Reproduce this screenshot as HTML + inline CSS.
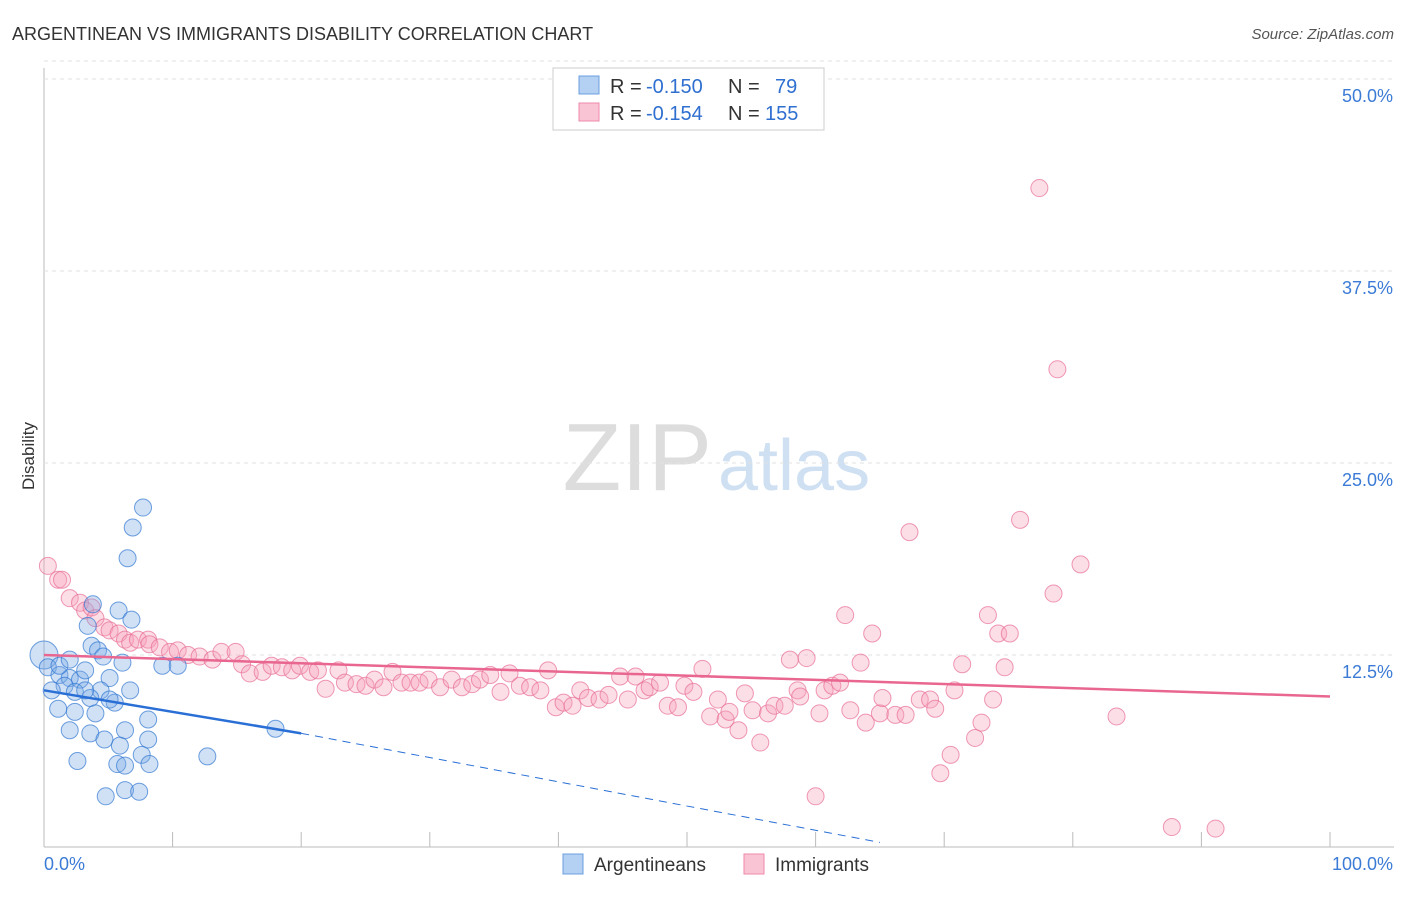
<!DOCTYPE html>
<html><head><meta charset="utf-8"><style>
body{margin:0;background:#fff;font-family:"Liberation Sans",sans-serif}
svg text{font-family:"Liberation Sans",sans-serif}
</style></head><body>
<svg id="c" width="1406" height="892" xmlns="http://www.w3.org/2000/svg">
<text x="12" y="40" font-size="18" fill="#333">ARGENTINEAN VS IMMIGRANTS DISABILITY CORRELATION CHART</text>
<text x="1394" y="39" font-size="15" fill="#555" font-style="italic" text-anchor="end">Source: ZipAtlas.com</text>
<text x="712" y="490" font-size="96" fill="#ddd" text-anchor="end" font-family="Liberation Serif">ZIP</text>
<text x="718" y="490" font-size="72" fill="#cfe0f3">atlas</text>
<text x="34" y="456" font-size="17" fill="#333" transform="rotate(-90 34 456)" text-anchor="middle">Disability</text>
<g id="grid"></g><g id="marks"></g>
<g>
<rect x="553" y="68" width="271" height="62" fill="#fff" stroke="#ccc"/>
<rect x="579" y="76" width="20" height="18" fill="#b4d0f2" stroke="#6a9fdf"/>
<rect x="579" y="103" width="20" height="18" fill="#f9c4d3" stroke="#ee8aa8"/>
<text y="93" font-size="20" fill="#333"><tspan x="610">R =</tspan><tspan x="646" fill="#2f6fd0">-0.150</tspan><tspan x="728">N =</tspan><tspan x="775" fill="#2f6fd0">79</tspan></text>
<text y="120" font-size="20" fill="#333"><tspan x="610">R =</tspan><tspan x="646" fill="#2f6fd0">-0.154</tspan><tspan x="728">N =</tspan><tspan x="765" fill="#2f6fd0">155</tspan></text>
</g>
<g>
<rect x="563" y="854" width="20" height="20" fill="#b4d0f2" stroke="#6a9fdf"/>
<text x="594" y="871" font-size="19" fill="#333">Argentineans</text>
<rect x="744" y="854" width="20" height="20" fill="#f9c4d3" stroke="#ee8aa8"/>
<text x="775" y="871" font-size="19" fill="#333">Immigrants</text>
</g>
<text x="44" y="870" font-size="18" fill="#3b7bd6">0.0%</text>
<text x="1393" y="870" font-size="18" fill="#3b7bd6" text-anchor="end">100.0%</text>
</svg>
<script>
const yTicks=[12.5,25,37.5,50];
const yTickLabels=["12.5%","25.0%","37.5%","50.0%"];
const blueX=[7.7,6.9,6.5,3.8,5.8,3.4,6.8,3.7,4.2,6.1,4.6,0,0.3,1.2,2.0,2.8,1.6,0.6,2.4,5.1,3.2,4.4,6.7,3.6,5.5,1.1,2.4,4.0,8.1,2.0,3.6,6.3,4.7,8.1,5.9,2.6,5.7,7.6,8.2,6.3,12.7,4.8,6.3,7.4,18.0,9.2,10.4,1.2,2.0,3.2,5.1];
const blueY=[22.1,20.8,18.8,15.8,15.4,14.4,14.8,13.1,12.8,12.0,12.4,12.5,11.7,11.2,11.0,10.9,10.5,10.2,10.1,11.0,11.5,10.2,10.2,9.7,9.4,9.0,8.8,8.7,8.3,7.6,7.4,7.6,7.0,7.0,6.6,5.6,5.4,6.0,5.4,5.3,5.9,3.3,3.7,3.6,7.7,11.8,11.8,11.8,12.2,10.2,9.6];
const pinkX=[0.3,1.1,1.4,2.0,2.8,3.2,3.7,4.0,4.7,5.1,5.8,6.3,6.7,7.3,8.1,8.2,9.0,9.8,10.4,11.2,12.1,13.1,13.8,14.9,15.4,16.0,17.0,17.7,18.5,19.3,19.9,20.7,21.3,21.9,22.9,23.4,24.3,25.0,25.7,26.4,27.1,27.8,28.5,29.2,29.9,30.8,31.7,32.5,33.3,33.9,34.7,35.5,36.2,37.0,37.8,38.6,39.2,39.8,40.4,41.1,41.7,42.3,43.2,43.9,44.8,45.4,46.0,46.7,47.1,47.9,48.5,49.3,49.8,50.5,51.2,51.8,52.4,53.0,53.3,54.0,54.5,55.1,55.7,56.3,56.8,57.6,58.0,58.6,58.8,59.3,60.0,60.3,60.7,61.3,61.9,62.3,62.7,63.5,63.9,64.4,65.0,65.2,66.2,67.0,67.3,68.1,68.9,69.3,69.7,70.5,70.8,71.4,72.4,72.9,73.4,73.8,74.2,74.7,75.1,75.9,77.4,78.5,78.8,80.6,83.4,87.7,91.1];
const pinkY=[18.3,17.4,17.4,16.2,15.9,15.4,15.6,14.9,14.3,14.1,13.9,13.5,13.3,13.5,13.5,13.2,13.0,12.7,12.8,12.5,12.4,12.2,12.7,12.7,11.9,11.3,11.4,11.8,11.7,11.5,11.8,11.4,11.5,10.3,11.5,10.7,10.6,10.5,10.9,10.4,11.4,10.7,10.7,10.7,10.9,10.4,10.9,10.4,10.6,10.9,11.2,10.1,11.3,10.5,10.4,10.2,11.5,9.1,9.4,9.2,10.2,9.7,9.6,9.9,11.1,9.6,11.1,10.2,10.4,10.7,9.2,9.1,10.5,10.1,11.6,8.5,9.6,8.3,8.8,7.6,10.0,8.9,6.8,8.7,9.2,9.2,12.2,10.2,9.8,12.3,3.3,8.7,10.2,10.5,10.7,15.1,8.9,12.0,8.1,13.9,8.7,9.7,8.6,8.6,20.5,9.6,9.6,9.0,4.8,6.0,10.2,11.9,7.1,8.1,15.1,9.6,13.9,11.7,13.9,21.3,42.9,16.5,31.1,18.4,8.5,1.3,1.2];
const blueTrend=[10.2,7.4,0.3];
const blueTrendX=[0,20,65];
const pinkTrend=[12.5,9.8];
const pinkTrendX=[0,100];
const X=v=>44+v*12.86, Y=v=>847-v*15.36;
const NS="http://www.w3.org/2000/svg";
function mk(t,a,p){const e=document.createElementNS(NS,t);for(const k in a)e.setAttribute(k,a[k]);p.appendChild(e);return e;}
const g=document.getElementById('grid'), m=document.getElementById('marks');
const ax=mk('line',{x1:44,y1:68,x2:44,y2:847,stroke:'#bbb'},g);


const bx=mk('line',{x1:44,y1:847,x2:1394,y2:847,stroke:'#bbb'},g);


for(let i=0;i<=10;i++){const t=mk('line',{x1:X(i*10),x2:X(i*10),y1:832,y2:847,stroke:'#bbb'},g);

}
yTicks.forEach((v,i)=>{const l=mk('line',{x1:44,x2:1394,y1:Y(v),y2:Y(v),stroke:'#e2e2e2','stroke-dasharray':'4,4'},g);


const t=mk('text',{x:1393,y:Y(v)+23,'font-size':18,fill:'#3b7bd6','text-anchor':'end'},g);t.textContent=yTickLabels[i];

});
const topLine=mk('line',{x1:44,x2:1394,y1:Y(50)-18,y2:Y(50)-18,stroke:'#e2e2e2','stroke-dasharray':'4,4'},g);


pinkX.forEach((v,i)=>{const c=mk('circle',{cx:X(v),cy:Y(pinkY[i]),r:8.5,fill:'rgba(246,160,185,0.35)',stroke:'rgba(232,110,150,0.7)','stroke-width':1},m);

});
blueX.forEach((v,i)=>{const c=mk('circle',{cx:X(v),cy:Y(blueY[i]),r:i==11?14:8.5,fill:'rgba(120,170,230,0.35)',stroke:'rgba(50,120,210,0.7)','stroke-width':1},m);

});
const pl=mk('line',{x1:X(pinkTrendX[0]),y1:Y(pinkTrend[0]),x2:X(pinkTrendX[1]),y2:Y(pinkTrend[1]),stroke:'#e8668f','stroke-width':2.5},m);


const bl=mk('line',{x1:X(blueTrendX[0]),y1:Y(blueTrend[0]),x2:X(blueTrendX[1]),y2:Y(blueTrend[1]),stroke:'#2a6fd6','stroke-width':2.5},m);


const bd=mk('line',{x1:X(blueTrendX[1]),y1:Y(blueTrend[1]),x2:X(blueTrendX[2]),y2:Y(blueTrend[2]),stroke:'#2a6fd6','stroke-width':1,'stroke-dasharray':'8,6'},m);


</script>
</body></html>
